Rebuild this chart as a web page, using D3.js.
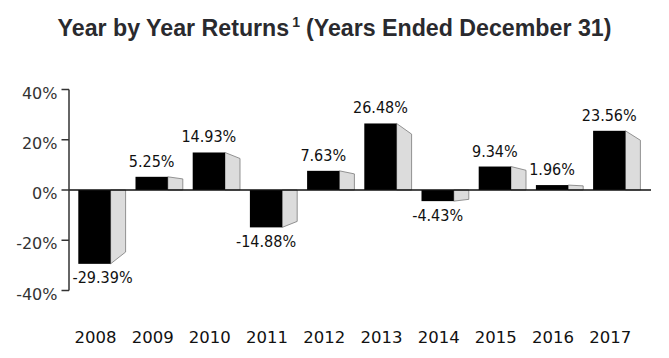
<!DOCTYPE html>
<html>
<head>
<meta charset="utf-8">
<script src="https://cdn.jsdelivr.net/npm/d3@7"></script>
<style>
html,body{margin:0;padding:0;background:#fff;}
svg{display:block;}
</style>
</head>
<body>
<svg id="chart" width="669" height="358"></svg>
<script>
const years = ["2008","2009","2010","2011","2012","2013","2014","2015","2016","2017"];
const returns = [-29.39, 5.25, 14.93, -14.88, 7.63, 26.48, -4.43, 9.34, 1.96, 23.56];
const valueLabels = ["-29.39%","5.25%","14.93%","-14.88%","7.63%","26.48%","-4.43%","9.34%","1.96%","23.56%"];
const yTicks = [-40, -20, 0, 20, 40];
const yTickLabels = ["-40%","-20%","0%","20%","40%"];

const svg = d3.select("#chart");
const y = d3.scaleLinear().domain([-40, 40]).range([290.5, 89.5]);
const x = d3.scaleBand().domain(years).range([78.3, 650.3]).padding(0);
const frontW = 32.3, sideW = 15, persp = 0.84;
const y0 = y(0);

// Title
const title = svg.append("text")
  .attr("x", 334.5).attr("y", 36)
  .attr("text-anchor", "middle")
  .attr("font-family", "Liberation Sans, Arial, sans-serif")
  .attr("font-weight", "bold")
  .attr("font-size", 23.2)
  .attr("fill", "#2a2a2e");
title.append("tspan").text("Year by Year Returns");
title.append("tspan").attr("font-size", 14).attr("dy", -9).attr("dx", 3).text("1");
title.append("tspan").attr("dy", 9).attr("dx", 6).text("(Years Ended December 31)");

// Bars
const g = svg.append("g");
years.forEach((yr, i) => {
  const v = returns[i];
  const xl = x(yr), xr = xl + frontW;
  const yv = y(v);
  const ySide = y0 + (yv - y0) * persp;
  // side face
  g.append("path")
    .attr("d", `M${xr},${y0} L${xr},${yv} L${xr + sideW},${ySide} L${xr + sideW},${y0} Z`)
    .attr("fill", "#dcdcdc")
    .attr("stroke", "#7a7a7a")
    .attr("stroke-width", 0.8);
  // front face
  g.append("rect")
    .attr("x", xl).attr("width", frontW)
    .attr("y", Math.min(yv, y0)).attr("height", Math.abs(yv - y0))
    .attr("fill", "#000");
  // value label
  const lbl = g.append("text")
    .attr("x", xl + frontW / 2)
    .attr("y", v >= 0 ? yv - 10 : yv + 19.5)
    .attr("text-anchor", "middle")
    .attr("font-family", "DejaVu Sans, sans-serif")
    .attr("font-stretch", "condensed")
    .attr("font-size", 16)
    .attr("fill", "#111")
    .text(valueLabels[i]);
  const bb = lbl.node().getBBox();
  if (bb.x < 72.5) lbl.attr("x", xl + frontW / 2 + (72.5 - bb.x));
  // year label
  g.append("text")
    .attr("x", xl + frontW / 2 + 1)
    .attr("y", 343.3)
    .attr("text-anchor", "middle")
    .attr("font-family", "DejaVu Sans, sans-serif")
    .attr("font-size", 16.5)
    .attr("fill", "#111")
    .text(yr);
});

// zero line
svg.append("line")
  .attr("x1", 69).attr("x2", 651)
  .attr("y1", y0).attr("y2", y0)
  .attr("stroke", "#111").attr("stroke-width", 1.5);

// y axis
const axisX = 69;
svg.append("line")
  .attr("x1", axisX).attr("x2", axisX)
  .attr("y1", y(40)).attr("y2", y(-40))
  .attr("stroke", "#333").attr("stroke-width", 1.5);
yTicks.forEach((t, i) => {
  svg.append("line")
    .attr("x1", 61.5).attr("x2", axisX)
    .attr("y1", y(t)).attr("y2", y(t))
    .attr("stroke", "#333").attr("stroke-width", 1.5);
  svg.append("text")
    .attr("x", 57.5).attr("y", y(t) + 9)
    .attr("text-anchor", "end")
    .attr("font-family", "DejaVu Sans, sans-serif")
    .attr("font-size", 16)
    .attr("fill", "#333")
    .text(yTickLabels[i]);
});
</script>
</body>
</html>
